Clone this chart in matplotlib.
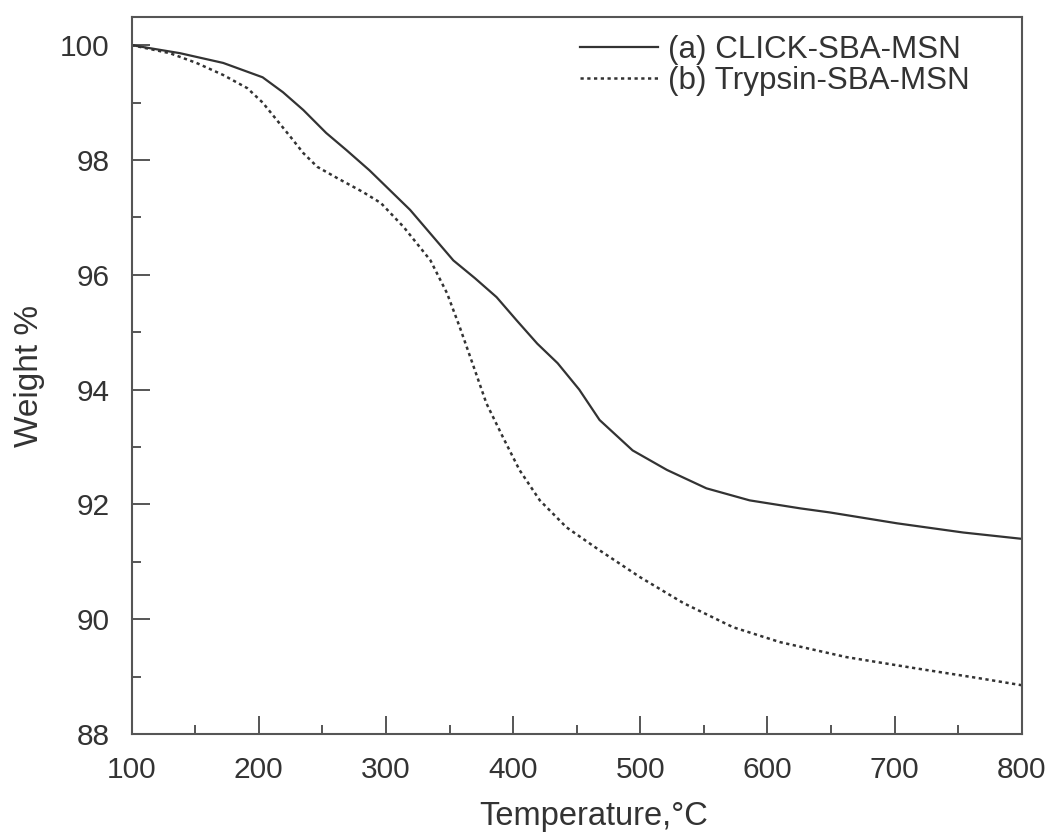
import matplotlib
matplotlib.use("Agg")
import matplotlib.pyplot as plt
from matplotlib.ticker import MultipleLocator

# TGA weight-loss curves
temp_a = [100, 138, 172, 203, 219, 235, 253, 269, 287, 319, 353, 370, 387, 403,
          419, 435, 452, 468, 494, 521, 552, 586, 626, 649, 702, 754, 800]
weight_a = [100.0, 99.86, 99.69, 99.44, 99.18, 98.87, 98.47, 98.17, 97.82, 97.13,
            96.25, 95.94, 95.61, 95.20, 94.80, 94.46, 94.00, 93.47, 92.94, 92.60,
            92.28, 92.07, 91.93, 91.86, 91.67, 91.51, 91.40]

temp_b = [100, 130, 151, 172, 191, 203, 214, 225, 235, 246, 262, 282, 296, 314,
          335, 348, 358, 368, 379, 392, 405, 421, 442, 468, 500, 534, 573, 610,
          662, 715, 767, 800]
weight_b = [100.0, 99.86, 99.69, 99.48, 99.25, 99.00, 98.70, 98.40, 98.12, 97.88,
            97.68, 97.44, 97.25, 96.83, 96.25, 95.68, 95.09, 94.46, 93.76, 93.17,
            92.60, 92.07, 91.60, 91.20, 90.73, 90.28, 89.86, 89.60, 89.34, 89.15,
            88.97, 88.85]

label_a = "(a) CLICK-SBA-MSN"
label_b = "(b) Trypsin-SBA-MSN"

plt.rcParams['font.family'] = ['Liberation Sans', 'DejaVu Sans']
text_color = "#333333"
spine_color = "#555555"

fig = plt.figure(figsize=(10.49, 8.34), dpi=100)
ax = fig.add_axes([0.1255, 0.1199, 0.8485, 0.8597])

ax.plot(temp_a, weight_a, color="#333333", lw=1.6, ls="-", label=label_a)
ax.plot(temp_b, weight_b, color="#333333", lw=1.8, ls=(0, (1.3, 1.4)), label=label_b)

ax.set_xlim(100, 800)
ax.set_ylim(88, 100.49)
ax.xaxis.set_major_locator(MultipleLocator(100))
ax.xaxis.set_minor_locator(MultipleLocator(50))
ax.yaxis.set_major_locator(MultipleLocator(2))
ax.yaxis.set_minor_locator(MultipleLocator(1))

ax.tick_params(which="both", direction="in", top=False, right=False,
               color=spine_color, width=1.4, labelsize=21.5,
               labelcolor=text_color, pad=16)
ax.tick_params(which="major", length=13)
ax.tick_params(which="minor", length=6.5)
for sp in ax.spines.values():
    sp.set_color(spine_color)
    sp.set_linewidth(1.5)

ax.set_xlabel("Temperature,°C", fontsize=23.5, color=text_color, labelpad=12)
ax.set_ylabel("Weight %", fontsize=24, color=text_color, labelpad=11)
ax.xaxis.label.set_x(0.519)

leg = ax.legend(loc="upper right", frameon=False, fontsize=22.6,
                handlelength=2.48, handletextpad=0.32, labelspacing=0.03,
                borderaxespad=0.3, bbox_to_anchor=(0.966, 1.006))
for t in leg.get_texts():
    t.set_color(text_color)

fig.savefig("out.png", dpi=100, facecolor="white")
